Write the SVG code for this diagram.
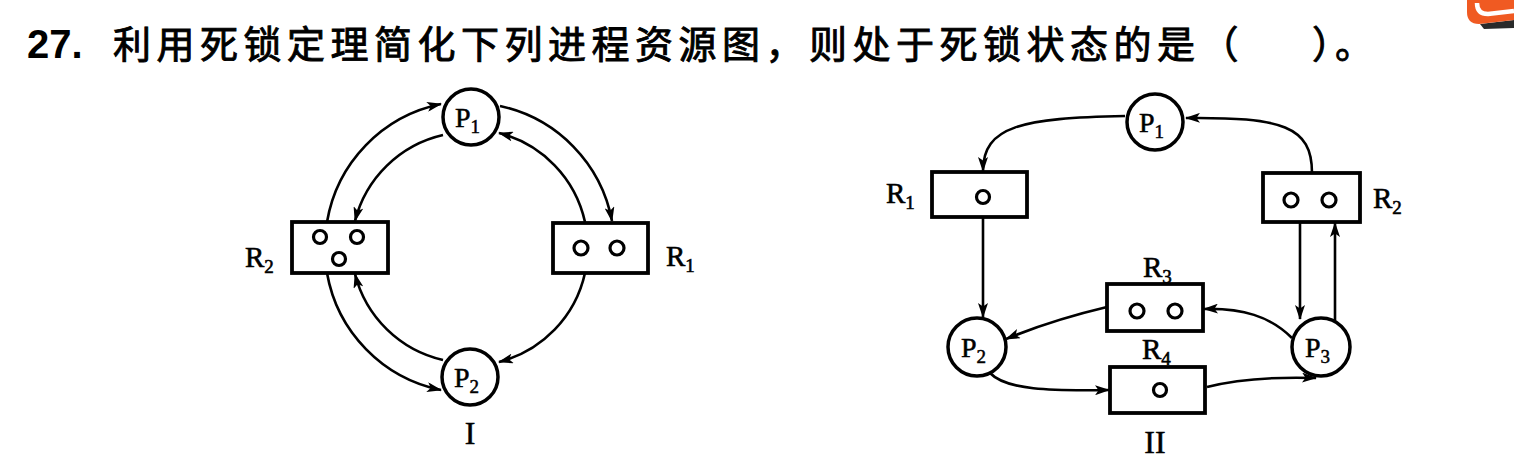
<svg xmlns="http://www.w3.org/2000/svg" width="1514" height="465" viewBox="0 0 1514 465">
<defs>
<marker id="ah" viewBox="0 0 15 10" refX="14" refY="5" markerWidth="15" markerHeight="10" markerUnits="userSpaceOnUse" orient="auto">
<path d="M0,0 L15,5 L0,10 L3.5,5 Z" fill="#000"/>
</marker>
<style>
.title{font-family:"Noto Sans CJK SC","Liberation Sans",sans-serif;font-size:38px;font-weight:400;fill:#000;stroke:#000;stroke-width:0.9}
.num{font-family:"Liberation Sans",sans-serif;font-size:40px;font-weight:700;fill:#000}
.lbl{font-family:"Liberation Serif",serif;font-size:29px;fill:#000;stroke:#000;stroke-width:0.6}
.sub{font-size:19px}
.plbl{font-family:"Liberation Serif",serif;font-size:28px;fill:#000;stroke:#000;stroke-width:0.5}
.roman{font-family:"Liberation Serif",serif;font-size:32px;fill:#000;stroke:#000;stroke-width:0.5}
.proc{fill:#fff;stroke:#000;stroke-width:3.5}
.res{fill:#fff;stroke:#000;stroke-width:3.8}
.dot{fill:none;stroke:#000;stroke-width:3.2}
.edge{fill:none;stroke:#000;stroke-width:2.6;marker-end:url(#ah)}
</style>
</defs>
<rect width="1514" height="465" fill="#fff"/>

<!-- corner logo fragment -->
<g id="logo">
<path d="M1480,24 L1514,20 L1514,28 L1484,29 Z" fill="#2a2a2a"/>
<path d="M1467,0 L1514,0 L1514,20 L1479,24 Q1467,24 1467,12 Z" fill="#f05a22"/>
<path d="M1477,3 Q1477,14 1488,14 L1514,11" fill="none" stroke="#fff" stroke-width="4.5"/>
</g>

<g id="title">
<text class="num" x="27" y="58">27.</text>
<text class="title" x="113" y="58" letter-spacing="5.5">利用死锁定理简化下列进程资源图，则处于死锁状态的是（</text>
<text class="title" x="1312" y="58" letter-spacing="4">）。</text>
</g>

<!-- Diagram I -->
<g id="edges1">
<path class="edge" d="M327,222 A145,145 0 0 1 441,104"/>
<path class="edge" d="M443,135 A118,118 0 0 0 355,221"/>
<path class="edge" d="M500,106 A145,145 0 0 1 612,221"/>
<path class="edge" d="M585,222 A118,118 0 0 0 499,133"/>
<path class="edge" d="M585,273 A118,118 0 0 1 499,362"/>
<path class="edge" d="M327,273 A145,145 0 0 0 441,390"/>
<path class="edge" d="M443,360 A118,118 0 0 1 355,274"/>
</g>
<g id="I-P1">
<circle class="proc" cx="471" cy="117" r="28"/>
<text class="plbl" x="455" y="127">P<tspan class="sub" dy="6">1</tspan></text>
</g>
<g id="I-P2">
<circle class="proc" cx="470" cy="377" r="28"/>
<text class="plbl" x="454" y="387">P<tspan class="sub" dy="6">2</tspan></text>
</g>
<g id="I-R2">
<rect class="res" x="292" y="222" width="96" height="51"/>
<circle class="dot" cx="320" cy="237" r="6.5"/>
<circle class="dot" cx="357" cy="237" r="6.5"/>
<circle class="dot" cx="339" cy="259" r="6.5"/>
<text class="lbl" x="245" y="267">R<tspan class="sub" dy="6">2</tspan></text>
</g>
<g id="I-R1">
<rect class="res" x="553" y="223" width="95" height="50"/>
<circle class="dot" cx="581" cy="248" r="7"/>
<circle class="dot" cx="617" cy="248" r="7"/>
<text class="lbl" x="666" y="266">R<tspan class="sub" dy="6">1</tspan></text>
</g>
<text class="roman" x="470" y="444" text-anchor="middle">I</text>

<!-- Diagram II -->
<g id="edges2">
<path class="edge" d="M1312,173 C1312,126 1282,117 1186,118"/>
<path class="edge" d="M1125,116 C1022,118 983,126 983,171"/>
<path class="edge" d="M983,217 L983,317"/>
<path class="edge" d="M1300,222 L1300,319"/>
<path class="edge" d="M1335,321 L1335,223"/>
<path class="edge" d="M1292,338 C1270,316 1242,308 1204,309"/>
<path class="edge" d="M1107,307 Q1052,320 1006,339"/>
<path class="edge" d="M990,373 C1006,390 1050,391 1109,390"/>
<path class="edge" d="M1207,387 Q1250,376 1316,378"/>
</g>
<g id="II-P1">
<circle class="proc" cx="1155" cy="122" r="28"/>
<text class="plbl" x="1139" y="132">P<tspan class="sub" dy="6">1</tspan></text>
</g>
<g id="II-R1">
<rect class="res" x="932" y="172" width="95" height="45"/>
<circle class="dot" cx="983" cy="197" r="6.5"/>
<text class="lbl" x="886" y="203">R<tspan class="sub" dy="6">1</tspan></text>
</g>
<g id="II-R2">
<rect class="res" x="1263" y="173" width="97" height="49"/>
<circle class="dot" cx="1291" cy="200" r="7"/>
<circle class="dot" cx="1329" cy="200" r="7"/>
<text class="lbl" x="1373" y="208">R<tspan class="sub" dy="6">2</tspan></text>
</g>
<g id="II-P2">
<circle class="proc" cx="977" cy="347" r="29"/>
<text class="plbl" x="961" y="357">P<tspan class="sub" dy="6">2</tspan></text>
</g>
<g id="II-P3">
<circle class="proc" cx="1321" cy="347" r="29"/>
<text class="plbl" x="1305" y="357">P<tspan class="sub" dy="6">3</tspan></text>
</g>
<g id="II-R3">
<rect class="res" x="1107" y="284" width="96" height="47"/>
<circle class="dot" cx="1137" cy="311" r="7"/>
<circle class="dot" cx="1175" cy="311" r="7"/>
<text class="lbl" x="1143" y="277">R<tspan class="sub" dy="6">3</tspan></text>
</g>
<g id="II-R4">
<rect class="res" x="1110" y="367" width="95" height="46"/>
<circle class="dot" cx="1160" cy="390" r="6.5"/>
<text class="lbl" x="1142" y="359">R<tspan class="sub" dy="6">4</tspan></text>
</g>
<text class="roman" x="1155" y="453" text-anchor="middle">II</text>
</svg>
